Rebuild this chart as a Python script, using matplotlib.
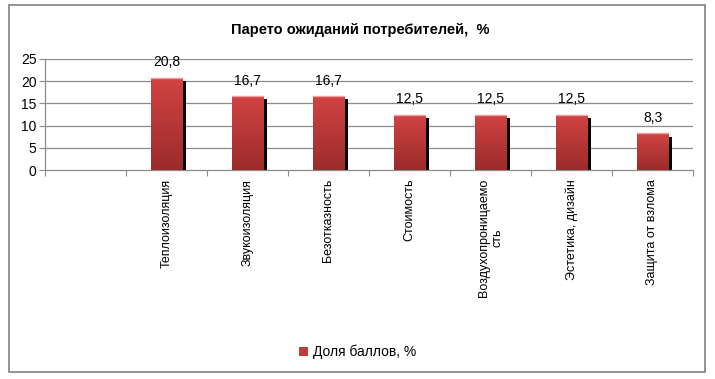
import matplotlib
matplotlib.use("Agg")
import matplotlib.pyplot as plt
import numpy as np
from matplotlib import patheffects as pe
from matplotlib.patches import Rectangle, Patch
from matplotlib.colors import LinearSegmentedColormap

categories = ["", "Теплоизоляция", "Звукоизоляция", "Безотказность", "Стоимость",
              "Воздухопроницаемо\nсть", "Эстетика, дизайн", "Защита от взлома"]
values = [None, 20.8, 16.7, 16.7, 12.5, 12.5, 12.5, 8.3]
value_labels = ["", "20,8", "16,7", "16,7", "12,5", "12,5", "12,5", "8,3"]
yticks = [0, 5, 10, 15, 20, 25]
title = "Парето ожиданий потребителей,  %"
legend_label = "Доля баллов, %"

plt.rcParams['font.family'] = ['Liberation Sans Narrow', 'Liberation Sans', 'DejaVu Sans']

fig = plt.figure(figsize=(7.15, 3.79), dpi=100)
# outer border
fig.patches.append(Rectangle((9/715, 1-372/379), (705-9)/715, (372-5)/379,
                             transform=fig.transFigure, fill=False,
                             edgecolor='#7f7f7f', linewidth=1.2))

ax = fig.add_axes([45/715, 1-170/379, (693-45)/715, (170-59)/379])
n = len(categories)
ax.set_xlim(0, n)
ax.set_ylim(0, 25)

grid_c = '#8c8c8c'
for y in yticks[1:]:
    ax.axhline(y, color=grid_c, linewidth=0.9, zorder=0)
for s in ['top', 'right']:
    ax.spines[s].set_visible(False)
for s in ['left', 'bottom']:
    ax.spines[s].set_color(grid_c)
    ax.spines[s].set_linewidth(0.9)

ax.set_yticks(yticks)
ax.set_yticklabels([str(v) for v in yticks], fontsize=10)
ax.tick_params(axis='y', length=4, color=grid_c, pad=2, direction='out')
ax.set_xticks(np.arange(0, n + 1))
ax.set_xticklabels([])
ax.tick_params(axis='x', length=4, color=grid_c, direction='out')

xs = np.arange(n) + 0.5
bw = 0.395
grad = np.linspace(0, 1, 100).reshape(-1, 1)
cmap = LinearSegmentedColormap.from_list('r', ['#9c2b2b', '#d24343'])
for x, v, lab in zip(xs, values, value_labels):
    if v is None:
        continue
    b = ax.bar(x, v, width=bw, color='#c43b3b', zorder=2,
               path_effects=[pe.SimplePatchShadow(offset=(2.5, -2.5), shadow_rgbFace='black', alpha=1.0),
                             pe.Normal()])
    patch = b[0]
    im = ax.imshow(grad, extent=[x - bw/2, x + bw/2, 0, v], origin='lower',
                   cmap=cmap, aspect='auto', zorder=3)
    im.set_clip_path(patch)
    ax.plot([x - bw/2, x + bw/2], [v, v], color='#f0a0a0', linewidth=1.0, zorder=4)
    ax.annotate(lab, (x, v), xytext=(0, 6), textcoords='offset points',
                ha='center', va='bottom', fontsize=10)

for x, c in zip(xs, categories):
    ax.text(x, -2.0, c, rotation=90, ha='center', va='top', multialignment='center',
            fontsize=9, family=['Liberation Sans', 'DejaVu Sans'])

fig.text(360/715, 1-30/379, title, ha='center', va='center', fontsize=10.5, fontweight='bold')

fig.legend(handles=[Patch(facecolor='#c43b3b', edgecolor='none')], labels=[legend_label],
           loc='center', bbox_to_anchor=(358/715, 1-352/379), frameon=False,
           fontsize=10, handlelength=0.6, handleheight=0.6, handletextpad=0.4)

fig.savefig('out.png', dpi=100)
